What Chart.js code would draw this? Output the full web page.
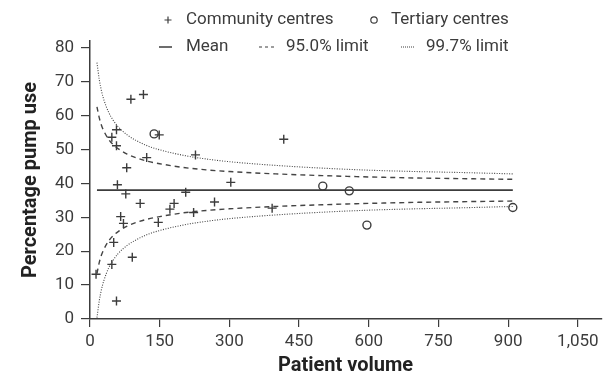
<!DOCTYPE html>
<html>
<head>
<meta charset="utf-8">
<script src="https://cdn.jsdelivr.net/npm/chart.js@4.4.0/dist/chart.umd.min.js"></script>
<style>
  html, body { margin: 0; padding: 0; background: #fff; }
  #wrap { width: 607px; height: 377px; position: relative; }
</style>
</head>
<body>
<div id="wrap"><canvas id="funnelChart"></canvas></div>
<script>
// Centres: patient volume vs percentage pump use
const communityVolume = [13, 57, 47, 51, 91, 66, 72, 59, 77, 108, 147, 172, 181, 206, 223, 268, 303, 392, 227, 417, 88, 115, 57, 47, 57, 149, 122, 79];
const communityPct = [13.2, 5.3, 16.1, 22.6, 18.2, 30.2, 28.2, 39.6, 36.9, 34.1, 28.5, 32.4, 34.1, 37.4, 31.4, 34.5, 40.3, 32.7, 48.4, 53.0, 64.8, 66.2, 55.8, 53.6, 51.1, 54.3, 47.6, 44.6];

const tertiaryVolume = [138, 501, 558, 596, 910];
const tertiaryPct = [54.6, 39.2, 37.8, 27.7, 32.9];

// Mean and control limits
const meanVolume = [15, 910];
const meanPct = [38, 38];

const limitVolume = [15, 20, 25, 30, 40, 50, 60, 80, 100, 125, 150, 200, 250, 300, 400, 500, 600, 700, 800, 910];
const upper95 = [62.6, 59.3, 57.0, 55.4, 53.0, 51.4, 50.3, 48.6, 47.5, 46.5, 45.8, 44.7, 44.0, 43.5, 42.8, 42.3, 41.9, 41.6, 41.4, 41.2];
const lower95 = [13.4, 16.7, 19.0, 20.6, 23.0, 24.6, 25.7, 27.4, 28.5, 29.5, 30.2, 31.3, 32.0, 32.5, 33.2, 33.7, 34.1, 34.4, 34.6, 34.8];
const upper997 = [75.6, 70.6, 67.1, 64.6, 61.0, 58.6, 56.8, 54.3, 52.6, 51.0, 49.9, 48.3, 47.2, 46.4, 45.3, 44.5, 43.9, 43.5, 43.2, 42.8];
const lower997 = [0.4, 5.4, 8.9, 11.4, 15.0, 17.4, 19.2, 21.7, 23.4, 25.0, 26.1, 27.7, 28.8, 29.6, 30.7, 31.5, 32.1, 32.5, 32.8, 33.2];

const xTicks = [0, 150, 300, 450, 600, 750, 900, 1050];
const yTicks = [0, 10, 20, 30, 40, 50, 60, 70, 80];

const FONT = "Roboto, 'Liberation Sans', sans-serif";
const INK = '#3c3c3c';

function toPoints(xs, ys) {
    return xs.map((x, i) => ({ x: x, y: ys[i] }));
}

function lineSet(label, xs, ys, dash, width, color) {
    return {
        label: label,
        data: toPoints(xs, ys),
        showLine: true,
        borderColor: color,
        borderWidth: width,
        borderDash: dash,
        pointRadius: 0,
        cubicInterpolationMode: 'monotone',
        fill: false,
        order: 2
    };
}

// Legend drawn by hand so it keeps the two-row layout
const funnelLegend = {
    id: 'funnelLegend',
    afterDraw(chart) {
        const ctx = chart.ctx;
        const rows = [
            { kind: 'cross', mx: 168, tx: 186, y: 20, text: chart.data.datasets[0].label },
            { kind: 'circle', mx: 374, tx: 391, y: 20, text: chart.data.datasets[1].label },
            { kind: 'solid', mx: 159, tx: 186, y: 47, text: chart.data.datasets[2].label },
            { kind: 'dashed', mx: 259, tx: 286, y: 47, text: chart.data.datasets[3].label },
            { kind: 'dotted', mx: 401, tx: 426, y: 47, text: chart.data.datasets[5].label }
        ];
        ctx.save();
        ctx.strokeStyle = INK;
        ctx.fillStyle = INK;
        rows.forEach(r => {
            ctx.beginPath();
            ctx.setLineDash([]);
            if (r.kind === 'cross') {
                ctx.lineWidth = 1.2;
                ctx.moveTo(r.mx - 3.5, r.y); ctx.lineTo(r.mx + 3.5, r.y);
                ctx.moveTo(r.mx, r.y - 3.5); ctx.lineTo(r.mx, r.y + 3.5);
                ctx.stroke();
            } else if (r.kind === 'circle') {
                ctx.lineWidth = 1.2;
                ctx.arc(r.mx, r.y, 3.2, 0, Math.PI * 2);
                ctx.stroke();
            } else if (r.kind === 'solid') {
                ctx.lineWidth = 1.5;
                ctx.moveTo(r.mx, r.y); ctx.lineTo(r.mx + 13, r.y);
                ctx.stroke();
            } else if (r.kind === 'dashed') {
                ctx.lineWidth = 1.2;
                ctx.setLineDash([3, 3]);
                ctx.moveTo(r.mx, r.y); ctx.lineTo(r.mx + 18, r.y);
                ctx.stroke();
            } else {
                ctx.lineWidth = 1;
                ctx.setLineDash([1, 1]);
                ctx.moveTo(r.mx, r.y); ctx.lineTo(r.mx + 14, r.y);
                ctx.stroke();
            }
            ctx.setLineDash([]);
            ctx.font = '17px ' + FONT;
            ctx.textBaseline = 'middle';
            ctx.textAlign = 'left';
            ctx.fillText(r.text, r.tx, r.y);
        });
        ctx.restore();
    }
};

const ctx = document.getElementById('funnelChart').getContext('2d');

new Chart(ctx, {
    type: 'scatter',
    data: {
        datasets: [
            {
                label: 'Community centres',
                data: toPoints(communityVolume, communityPct),
                pointStyle: 'cross',
                pointRadius: 4.5,
                borderColor: INK,
                borderWidth: 1.4,
                order: 1
            },
            {
                label: 'Tertiary centres',
                data: toPoints(tertiaryVolume, tertiaryPct),
                pointStyle: 'circle',
                pointRadius: 4,
                borderColor: INK,
                backgroundColor: 'rgba(0,0,0,0)',
                borderWidth: 1.4,
                order: 1
            },
            lineSet('Mean', meanVolume, meanPct, [], 1.6, INK),
            lineSet('95.0% limit', limitVolume, upper95, [5, 4], 1.4, '#444'),
            lineSet('95.0% limit', limitVolume, lower95, [5, 4], 1.4, '#444'),
            lineSet('99.7% limit', limitVolume, upper997, [1, 1.5], 1.1, '#444'),
            lineSet('99.7% limit', limitVolume, lower997, [1, 1.5], 1.1, '#444')
        ]
    },
    options: {
        responsive: true,
        maintainAspectRatio: false,
        animation: false,
        layout: { padding: { top: 41, right: 3, left: 0, bottom: 0 } },
        plugins: {
            legend: { display: false },
            tooltip: { enabled: false }
        },
        scales: {
            x: {
                type: 'linear',
                min: 0,
                max: 1100,
                afterBuildTicks: scale => { scale.ticks = xTicks.map(v => ({ value: v })); },
                afterFit: scale => { scale.height = 58; },
                grid: { drawOnChartArea: false, drawTicks: true, tickLength: 8, color: INK, lineWidth: 1.2 },
                border: { display: true, color: INK, width: 1.5 },
                ticks: {
                    color: INK,
                    font: { family: FONT, size: 17 },
                    padding: 5,
                    maxRotation: 0,
                    callback: v => v.toLocaleString('en-US')
                },
                title: {
                    display: true,
                    text: 'Patient volume',
                    color: '#222',
                    font: { family: FONT, size: 20, weight: 'bold', lineHeight: 1 },
                    padding: { top: 0, bottom: 1 }
                }
            },
            y: {
                min: 0,
                max: 82,
                afterBuildTicks: scale => { scale.ticks = yTicks.map(v => ({ value: v })); },
                afterFit: scale => { scale.width = 90; },
                grid: { drawOnChartArea: false, drawTicks: true, tickLength: 9, color: INK, lineWidth: 1.2 },
                border: { display: true, color: INK, width: 1.5 },
                ticks: {
                    color: INK,
                    font: { family: FONT, size: 17 },
                    padding: 7
                },
                title: {
                    display: true,
                    text: 'Percentage pump use',
                    color: '#222',
                    font: { family: FONT, size: 20, weight: 'bold', lineHeight: 1 },
                    padding: { top: 21, bottom: 0 }
                }
            }
        }
    },
    plugins: [funnelLegend]
});
</script>
</body>
</html>
